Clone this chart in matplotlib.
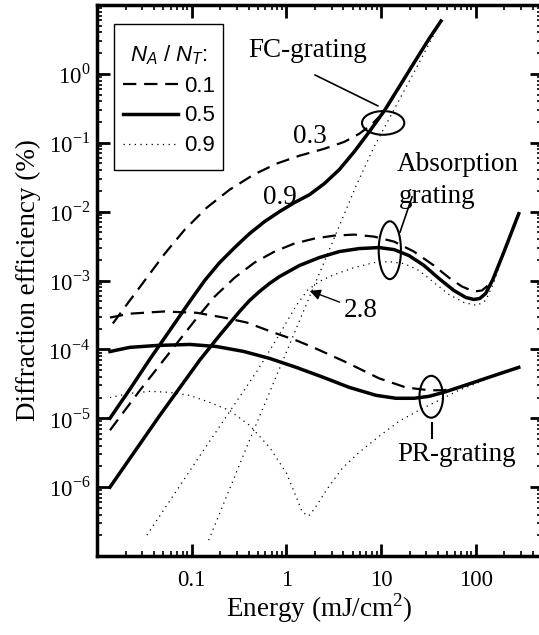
import numpy as np
import matplotlib
matplotlib.use("Agg")
import matplotlib.pyplot as plt
from matplotlib.patches import Ellipse, Rectangle
from matplotlib.ticker import LogLocator, NullFormatter

plt.rcParams['font.family'] = 'Liberation Serif'
plt.rcParams['mathtext.fontset'] = 'custom'
plt.rcParams['mathtext.rm'] = 'Liberation Serif'
plt.rcParams['mathtext.it'] = 'Liberation Sans:italic'

# energy (mJ/cm^2) and diffraction efficiency (%)
# FC-grating
fc_01_E = [0.0147, 0.0222, 0.0336, 0.052, 0.0844, 0.144, 0.251, 0.45, 0.785, 1.37,
           2.51, 4.08, 5.87, 7.85, 10.8, 13.7, 22.2, 32.0, 42.9]
fc_01_eta = [2.38e-4, 5.13e-4, 1.1e-3, 2.46e-3, 5.48e-3, 0.0114, 0.0208, 0.0344, 0.0497, 0.0648,
             0.0818, 0.103, 0.135, 0.182, 0.281, 0.48, 1.44, 3.22, 5.86]
fc_05_E = [0.0137, 0.0222, 0.0361, 0.0586, 0.0953, 0.137, 0.197, 0.284, 0.408, 0.587,
           0.844, 1.21, 1.75, 2.51, 3.61, 5.2, 7.48, 10.8, 15.5, 22.2, 32.0, 42.9]
fc_05_eta = [1.0e-5, 2.63e-5, 7.2e-5, 1.88e-4, 4.96e-4, 1.0e-3, 1.82e-3, 3.01e-3, 4.8e-3, 7.16e-3,
             0.010, 0.0135, 0.0176, 0.0255, 0.0406, 0.0741, 0.144, 0.291, 0.648, 1.44, 3.22, 5.86]
fc_09_E = [0.151, 0.408, 1.27, 2.84, 5.45, 8.43, 14.4, 25.1, 42.9]
fc_09_eta = [1.7e-7, 4.8e-6, 2.01e-4, 2.81e-3, 0.0238, 0.0875, 0.344, 1.44, 5.86]

# absorption grating
ab_01_E = [0.0137, 0.0284, 0.0586, 0.108, 0.175, 0.284, 0.46, 0.748, 1.21, 1.97,
           3.2, 5.2, 8.43, 13.7, 22.2, 36.1, 52, 71.3, 95.3, 116, 134, 151]
ab_01_eta = [6.7e-6, 2.55e-5, 9.05e-5, 2.63e-4, 5.86e-4, 1.1e-3, 1.82e-3, 2.63e-3, 3.44e-3, 4.06e-3,
             4.49e-3, 4.64e-3, 4.34e-3, 3.67e-3, 2.63e-3, 1.65e-3, 1.1e-3, 8.19e-4, 6.93e-4, 7.16e-4,
             8.47e-4, 1.03e-3]
ab_05_E = [0.0137, 0.046, 0.121, 0.197, 0.32, 0.408, 0.52, 0.662, 0.844, 1.37, 2.22, 3.61,
           5.87, 9.53, 13.7, 19.7, 28.4, 40.8, 58.7, 78.5, 95.3, 110, 127, 151, 197, 284]
ab_05_eta = [1.0e-6, 1.1e-5, 6.93e-5, 1.6e-4, 3.55e-4, 5.13e-4, 6.93e-4, 9.05e-4, 1.14e-3, 1.65e-3,
             2.15e-3, 2.63e-3, 2.91e-3, 3.01e-3, 2.81e-3, 2.3e-3, 1.65e-3, 1.07e-3, 7.16e-4, 5.67e-4,
             5.31e-4, 5.48e-4, 6.48e-4, 1.03e-3, 2.55e-3, 9.35e-3]
ab_09_E = [0.0336, 0.121, 0.495, 0.844, 1.27, 1.66, 2.22, 3.2, 5.2, 8.43,
           12.1, 17.5, 25.1, 36.1, 52, 74.8, 103, 127, 155, 197]
ab_09_eta = [2.01e-7, 2.81e-6, 4.96e-5, 1.65e-4, 4.34e-4, 7.16e-4, 9.68e-4, 1.22e-3, 1.54e-3, 1.82e-3,
             1.88e-3, 1.76e-3, 1.4e-3, 9.35e-4, 6.27e-4, 4.8e-4, 4.34e-4, 5.13e-4, 9.35e-4, 2.55e-3]

# PR-grating
pr_01_E = [0.0137, 0.0222, 0.0507, 0.113, 0.217, 0.379, 0.73, 1.27, 1.92, 4.28,
           9.5, 18.3, 32, 46, 66.2, 95.3, 137, 197, 284]
pr_01_eta = [2.9e-4, 3.3e-4, 3.55e-4, 3.4e-4, 2.9e-4, 2.46e-4, 1.76e-4, 1.35e-4, 1.07e-4, 6.5e-5,
             3.8e-5, 2.8e-5, 2.55e-5, 2.55e-5, 2.81e-5, 3.32e-5, 3.93e-5, 4.64e-5, 5.48e-5]
pr_05_E = [0.0137, 0.0222, 0.0428, 0.0953, 0.183, 0.352, 0.662, 1.27, 2.45, 4.6,
           8.86, 14.4, 22.2, 32, 46, 66.2, 95.3, 137, 197, 284]
pr_05_eta = [9.3e-5, 1.07e-4, 1.14e-4, 1.18e-4, 1.1e-4, 9.35e-5, 7.41e-5, 5.48e-5, 3.93e-5, 2.81e-5,
             2.15e-5, 1.95e-5, 1.95e-5, 2.08e-5, 2.38e-5, 2.81e-5, 3.32e-5, 3.93e-5, 4.64e-5, 5.48e-5]
pr_09_E = [0.0137, 0.0222, 0.0361, 0.0586, 0.0953, 0.155, 0.251, 0.408, 0.662, 1.0,
           1.27, 1.47, 1.71, 1.97, 2.64, 3.88, 5.87, 9.53, 15.5, 25.1, 40.8, 66.2, 95.3, 137, 197, 284]
pr_09_eta = [2.0e-5, 2.3e-5, 2.46e-5, 2.38e-5, 2.15e-5, 1.7e-5, 1.3e-5, 7.9e-6, 3.8e-6, 1.6e-6,
             7.2e-7, 4.34e-7, 3.8e-7, 4.8e-7, 9.05e-7, 1.88e-6, 3.21e-6, 5.48e-6, 9.05e-6, 1.31e-5,
             1.82e-5, 2.55e-5, 3.11e-5, 3.8e-5, 4.64e-5, 5.48e-5]

ratios = ['0.1', '0.5', '0.9']
x_ticks = [0.1, 1, 10, 100]
x_ticklabels = ['0.1', '1', '10', '100']
y_ticks = [1e-6, 1e-5, 1e-4, 1e-3, 1e-2, 1e-1, 1e0]
y_ticklabels = ['10$^{%d}$' % int(round(np.log10(v))) for v in y_ticks]

styles = {
    '0.1': dict(color='black', lw=1.6, linestyle=(0, (6, 3.5))),
    '0.5': dict(color='black', lw=2.5, linestyle='-', solid_joinstyle='round'),
    '0.9': dict(color='black', lw=0.9, linestyle=(0, (1, 3.5))),
}

fig = plt.figure(figsize=(5.39, 6.35), dpi=100)
ax = fig.add_axes([0.18, 0.1244, 0.8256, 0.8677])

curves = [
    (fc_01_E, fc_01_eta, '0.1'), (fc_05_E, fc_05_eta, '0.5'), (fc_09_E, fc_09_eta, '0.9'),
    (ab_01_E, ab_01_eta, '0.1'), (ab_05_E, ab_05_eta, '0.5'), (ab_09_E, ab_09_eta, '0.9'),
    (pr_01_E, pr_01_eta, '0.1'), (pr_05_E, pr_05_eta, '0.5'), (pr_09_E, pr_09_eta, '0.9'),
]
handles = {}
for E, eta, r in curves:
    ln, = ax.plot(E, eta, **styles[r])
    handles[r] = ln

ax.set_xscale('log')
ax.set_yscale('log')
ax.set_xlim(0.01, 500)
ax.set_ylim(1e-7, 10)

ax.set_xticks(x_ticks)
ax.set_xticklabels(x_ticklabels)
ax.set_yticks(y_ticks)
ax.set_yticklabels(y_ticklabels)
ax.xaxis.set_minor_locator(LogLocator(base=10, subs=np.arange(2, 10), numticks=20))
ax.yaxis.set_minor_locator(LogLocator(base=10, subs=np.arange(2, 10), numticks=20))
ax.xaxis.set_minor_formatter(NullFormatter())
ax.yaxis.set_minor_formatter(NullFormatter())

ax.tick_params(which='both', direction='in', top=True, right=True, labelsize=16.5)
ax.tick_params(which='major', length=9, width=2)
ax.tick_params(which='minor', length=3.5, width=1.2)
ax.tick_params(axis='x', which='major', pad=10)
ax.tick_params(axis='y', which='major', pad=5)
for s in ax.spines.values():
    s.set_linewidth(2.5)

ax.set_xlabel('Energy (mJ/cm$^2$)', fontsize=19.5, labelpad=0)
ax.set_ylabel('Diffraction efficiency (%)', fontsize=19.5)
ax.yaxis.set_label_coords(-0.127, 0.5)

# legend: entries without frame, box drawn separately
leg = ax.legend([handles[r] for r in ratios], ratios, loc='upper left',
                bbox_to_anchor=(0.038, 0.947), borderaxespad=0, frameon=False,
                handlelength=2.5, handletextpad=0.25,
                labelspacing=0.4, borderpad=0.4, title='$N_A$ / $N_T$:',
                prop={'family': 'Liberation Sans', 'size': 16},
                title_fontproperties={'family': 'Liberation Sans', 'size': 16})
ax.add_patch(Rectangle((0.038, 0.7005), 0.245, 0.265, transform=ax.transAxes,
                       fill=True, facecolor='white', edgecolor='black', lw=1.0, zorder=4))
leg.set_zorder(5)

# annotations
ta = ax.transAxes
ax.add_patch(Ellipse((0.643, 0.786), 0.095, 0.043, transform=ta, fill=False, lw=1.5, color='black'))
ax.add_patch(Ellipse((0.658, 0.555), 0.05, 0.105, transform=ta, fill=False, lw=1.5, color='black'))
ax.add_patch(Ellipse((0.751, 0.289), 0.053, 0.076, transform=ta, fill=False, lw=1.5, color='black'))
ax.plot([0.49, 0.631], [0.873, 0.817], transform=ta, color='black', lw=1.2)
ax.plot([0.708, 0.681], [0.652, 0.588], transform=ta, color='black', lw=1.2)
ax.plot([0.753, 0.753], [0.241, 0.214], transform=ta, color='black', lw=1.5)
ax.annotate('', xy=(0.472, 0.483), xytext=(0.551, 0.459), xycoords=ta, textcoords=ta,
            arrowprops=dict(arrowstyle='-|>', color='black', lw=1.0, mutation_scale=16))

fs = 19.5
ax.text(0.474, 0.918, 'FC-grating', transform=ta, fontsize=fs, ha='center', va='center')
ax.text(0.479, 0.762, '0.3', transform=ta, fontsize=fs, ha='center', va='center')
ax.text(0.411, 0.650, '0.9', transform=ta, fontsize=fs, ha='center', va='center')
ax.text(0.674, 0.710, 'Absorption', transform=ta, fontsize=fs, ha='left', va='center')
ax.text(0.679, 0.653, 'grating', transform=ta, fontsize=fs, ha='left', va='center')
ax.text(0.593, 0.446, '2.8', transform=ta, fontsize=fs, ha='center', va='center')
ax.text(0.809, 0.185, 'PR-grating', transform=ta, fontsize=fs, ha='center', va='center')

fig.savefig('out.png', dpi=100)
